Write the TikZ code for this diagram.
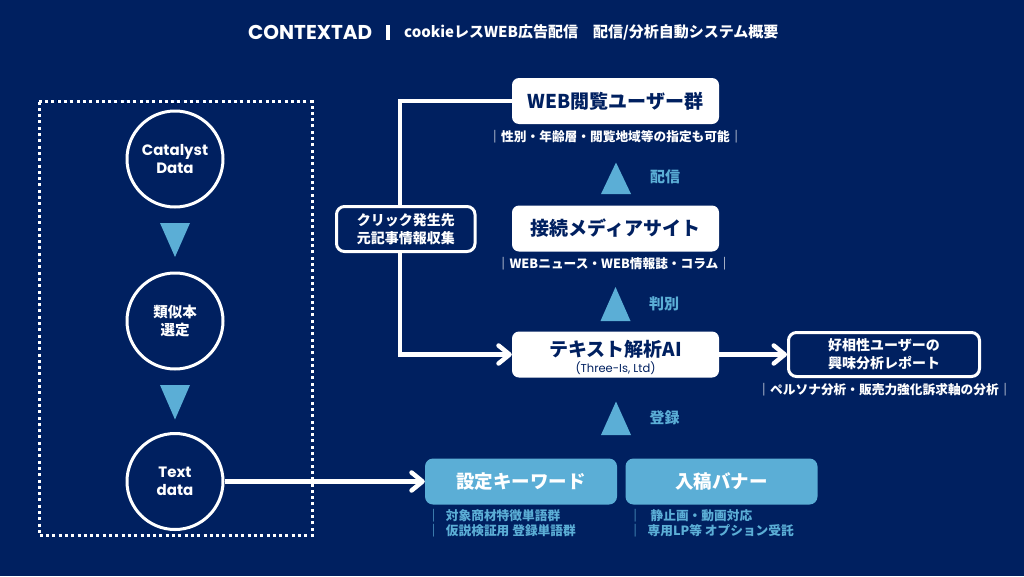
\documentclass[tikz,border=0pt]{standalone}
\usepackage{fontspec}
\setmainfont{Noto Sans CJK JP}
\newfontfamily\pop{Poppins}
\usetikzlibrary{arrows.meta}
\definecolor{navy}{HTML}{002060}
\definecolor{lblue}{HTML}{5BAED6}
\begin{document}
\begin{tikzpicture}[x=1pt,y=-1pt,
  wbox/.style={fill=white, rounded corners=7pt, minimum width=207pt, minimum height=46pt, inner sep=0pt, text=navy, font=\bfseries\fontsize{19}{22}\selectfont},
  obox/.style={draw=white, line width=3pt, fill=navy, rounded corners=8pt, inner sep=0pt, text=white, align=center, font=\bfseries\fontsize{14}{18}\selectfont},
  bbox/.style={fill=lblue, rounded corners=8pt, minimum width=192pt, minimum height=46pt, inner sep=0pt, text=white, font=\bfseries\fontsize{18.5}{22}\selectfont},
  circ/.style={circle, draw=white, line width=3pt, minimum size=96pt, inner sep=0pt, text=white, align=center},
  conn/.style={draw=white, line width=4.5pt},
  arr/.style={conn, -{Straight Barb[length=11pt,width=18pt,round]}},
  tri/.style={fill=lblue},
  sub/.style={text=white, font=\bfseries\fontsize{12.7}{15}\selectfont, inner sep=0pt},
  lsub/.style={text=lblue, font=\bfseries\fontsize{12.7}{15}\selectfont, inner sep=0pt, anchor=west},
  lab/.style={text=lblue, font=\bfseries\fontsize{15}{18}\selectfont, inner sep=0pt}
]
\fill[navy] (0,0) rectangle (1024,576);
\useasboundingbox (0,0) rectangle (1024,576);

% title
\node[anchor=west, inner sep=0pt, text=white, font=\pop\bfseries\fontsize{20}{24}\selectfont] (ttl) at (248,32) {CONTEXTAD};
\draw[white, line width=3.5pt] (388,25) -- (388,40);
\node[anchor=west, inner sep=0pt, text=white, font=\bfseries\fontsize{15}{18}\selectfont] (ttl2) at (404,32) {cookieレスWEB広告配信\hspace{15pt}配信/分析自動システム概要};

% left dotted frame
\draw[white, line width=3pt, dash pattern=on 3pt off 3.3pt] (39,101.5) rectangle (312,535.5);

% circles
\node[circ, font=\pop\bfseries\fontsize{15}{18}\selectfont] (c1) at (175,159) {Catalyst\\Data};
\node[circ, font=\bfseries\fontsize{14.5}{18.5}\selectfont] (c2) at (175,321) {類似本\\選定};
\node[circ, font=\pop\bfseries\fontsize{15}{18.5}\selectfont] (c3) at (175,481.5) {Text\\data};
\fill[tri] (160,223) -- (190,223) -- (175,257) -- cycle;
\fill[tri] (160,385) -- (190,385) -- (175,419.5) -- cycle;

% white boxes
\node[wbox] (web) at (615.5,101) {WEB閲覧ユーザー群};
\node[sub] (websub) at (615.5,136.5) {｜性別・年齢層・閲覧地域等の指定も可能｜};
\node[wbox] (media) at (615.5,228.5) {接続メディアサイト};
\node[sub] (mediasub) at (614,263.5) {｜WEBニュース・WEB情報誌・コラム｜};
\node[wbox] (ai) at (615.5,354.5) {};
\node[inner sep=0pt, text=navy, font=\bfseries\fontsize{19}{22}\selectfont] (aitxt) at (615.5,349) {テキスト解析AI};
\node[inner sep=0pt, text=navy, font=\pop\fontsize{11.5}{13}\selectfont] (aisub) at (615.5,368.5) {(Three-Is, Ltd)};

% up triangles and labels
\fill[tri] (601,194) -- (631,194) -- (616,162.5) -- cycle;
\node[lab] (l1) at (665,177) {配信};
\fill[tri] (600.5,321) -- (630.5,321) -- (615.5,287) -- cycle;
\node[lab] (l2) at (664,304) {判別};
\fill[tri] (601,435) -- (631,435) -- (616,401.5) -- cycle;
\node[lab] (l3) at (664.5,417.5) {登録};

% outlined boxes
\node[obox, minimum width=138.5pt, minimum height=45pt] (click) at (405.75,229) {クリック発生先\\元記事情報収集};
\node[obox, minimum width=191pt, minimum height=44pt] (rep) at (884,354.5) {好相性ユーザーの\\興味分析レポート};
\node[sub] (repsub) at (884.5,389.5) {｜ペルソナ分析・販売力強化訴求軸の分析｜};

% blue boxes
\node[bbox] (kw) at (521,481.5) {設定キーワード};
\node[bbox] (ban) at (721.5,481.5) {入稿バナー};
\node[lsub] (kw1) at (427,516) {｜\hspace{6pt}対象商材特徴単語群};
\node[lsub] (kw2) at (427,531) {｜\hspace{6pt}仮説検証用 登録単語群};
\node[lsub] (bn1) at (628.7,516) {｜\hspace{9pt}静止画・動画対応};
\node[lsub] (bn2) at (628.7,531) {｜\hspace{6pt}専用LP等 オプション受託};

% connectors
\coordinate (cx) at (400,0);
\draw[conn] (web.west) -| (cx |- click.north);
\draw[arr] (cx |- click.south) |- (ai.west);
\draw[arr] (c3.east) -- (kw.west);
\draw[arr] (ai.east) -- (rep.west);
\end{tikzpicture}
\end{document}
